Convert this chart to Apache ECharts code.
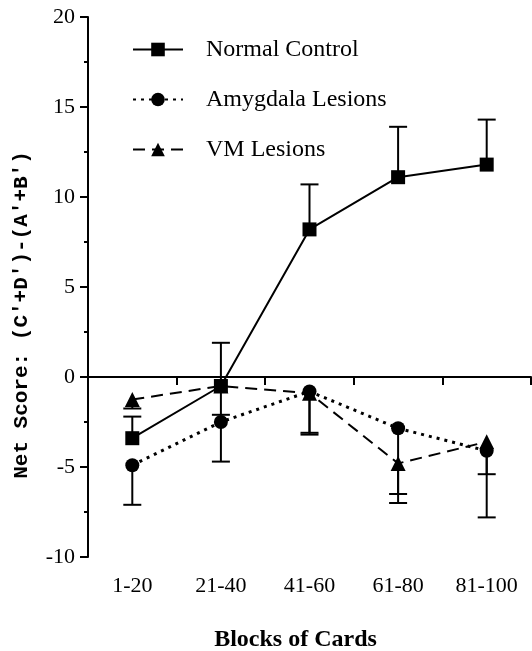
<!DOCTYPE html>
<html>
<head>
<meta charset="utf-8">
<script src="https://cdn.jsdelivr.net/npm/echarts@6/dist/echarts.min.js"></script>
<style>html,body{margin:0;padding:0;background:#fff}#c{width:532px;height:651px}</style>
</head>
<body>
<div id="c"></div>
<script>
const categories = ['1-20', '21-40', '41-60', '61-80', '81-100'];
const normalMean = [-3.4, -0.5, 8.2, 11.1, 11.8];
const normalErrEnd = [-2.2, 1.9, 10.7, 13.9, 14.3];
const amygMean = [-4.9, -2.5, -0.8, -2.85, -4.1];
const amygErrEnd = [-7.1, -4.7, -3.1, -7.0, -7.8];
const vmMean = [-1.25, -0.5, -0.9, -4.8, -3.6];
const vmErrEnd = [-1.75, -2.1, -3.2, -6.5, -5.4];
const yTicks = { min: -10, max: 20, interval: 5 };

const font = 'Liberation Serif';

function errData(mean, end) {
  return mean.map((m, i) => [i, m, end[i]]);
}
function errSeries(name, mean, end) {
  return {
    type: 'custom',
    name: name + ' err',
    data: errData(mean, end),
    silent: true,
    z: 1,
    encode: { x: 0, y: [1, 2] },
    renderItem: function (params, api) {
      const i = api.value(0);
      const p0 = api.coord([i, api.value(1)]);
      const p1 = api.coord([i, api.value(2)]);
      const hw = 9;
      return {
        type: 'group',
        children: [
          { type: 'line', shape: { x1: p0[0], y1: p0[1], x2: p1[0], y2: p1[1] }, style: { stroke: '#000', lineWidth: 2 } },
          { type: 'line', shape: { x1: p1[0] - hw, y1: p1[1], x2: p1[0] + hw, y2: p1[1] }, style: { stroke: '#000', lineWidth: 2 } }
        ]
      };
    }
  };
}

const chart = echarts.init(document.getElementById('c'), null, { renderer: 'canvas' });
chart.setOption({
  animation: false,
  backgroundColor: '#fff',
  grid: { left: 88, right: 1, top: 17, bottom: 94, containLabel: false, outerBoundsMode: 'none' },
  legend: {
    orient: 'vertical',
    left: 127,
    top: 31,
    itemWidth: 50,
    itemHeight: 17,
    itemGap: 23,
    data: ['Normal Control', 'Amygdala Lesions', 'VM Lesions'],
    textStyle: { fontFamily: font, fontSize: 24, color: '#000', lineHeight: 27, padding: [0, 0, 0, 18] }
  },
  xAxis: {
    type: 'category',
    data: categories,
    boundaryGap: true,
    name: 'Blocks of Cards',
    nameLocation: 'middle',
    nameGap: 71,
    nameTextStyle: { fontFamily: font, fontSize: 24, fontWeight: 'bold', color: '#000', padding: [0, 28, 0, 0] },
    axisLine: { lineStyle: { color: '#000', width: 2 } },
    axisTick: { show: true, length: 8, lineStyle: { color: '#000', width: 2 }, alignWithLabel: false },
    axisLabel: { fontFamily: font, fontSize: 22, color: '#000', margin: 18 },
    splitLine: { show: false }
  },
  yAxis: {
    type: 'value',
    min: yTicks.min,
    max: yTicks.max,
    interval: yTicks.interval,
    name: "Net Score: (C'+D')-(A'+B')",
    nameLocation: 'middle',
    nameRotate: 90,
    nameGap: 56,
    nameTextStyle: { fontFamily: 'Liberation Mono', fontSize: 21, fontWeight: 'bold', color: '#000', padding: [0, 56, 0, 0] },
    axisLine: { show: true, lineStyle: { color: '#000', width: 2 } },
    axisTick: { show: true, length: 8, lineStyle: { color: '#000', width: 2 } },
    minorTick: { show: true, splitNumber: 2, length: 4, lineStyle: { color: '#000', width: 2 } },
    axisLabel: { fontFamily: font, fontSize: 22, color: '#000', margin: 13 },
    splitLine: { show: false }
  },
  series: [
    errSeries('Normal Control', normalMean, normalErrEnd),
    errSeries('Amygdala Lesions', amygMean, amygErrEnd),
    errSeries('VM Lesions', vmMean, vmErrEnd),
    {
      name: 'VM Lesions', type: 'line', data: vmMean, z: 3,
      symbol: 'triangle', symbolSize: 15,
      itemStyle: { color: '#000' },
      lineStyle: { color: '#000', width: 2, type: [12, 7] }
    },
    {
      name: 'Amygdala Lesions', type: 'line', data: amygMean, z: 4,
      symbol: 'circle', symbolSize: 14,
      itemStyle: { color: '#000' },
      lineStyle: { color: '#000', width: 3, type: [3, 5] }
    },
    {
      name: 'Normal Control', type: 'line', data: normalMean, z: 5,
      symbol: 'rect', symbolSize: 14,
      itemStyle: { color: '#000' },
      lineStyle: { color: '#000', width: 2, type: 'solid' },
      markLine: {
        silent: true, symbol: ['none', 'none'], label: { show: false },
        lineStyle: { color: '#000', width: 2, type: 'solid' },
        data: [{ yAxis: 0 }]
      }
    }
  ]
});
</script>
</body>
</html>
